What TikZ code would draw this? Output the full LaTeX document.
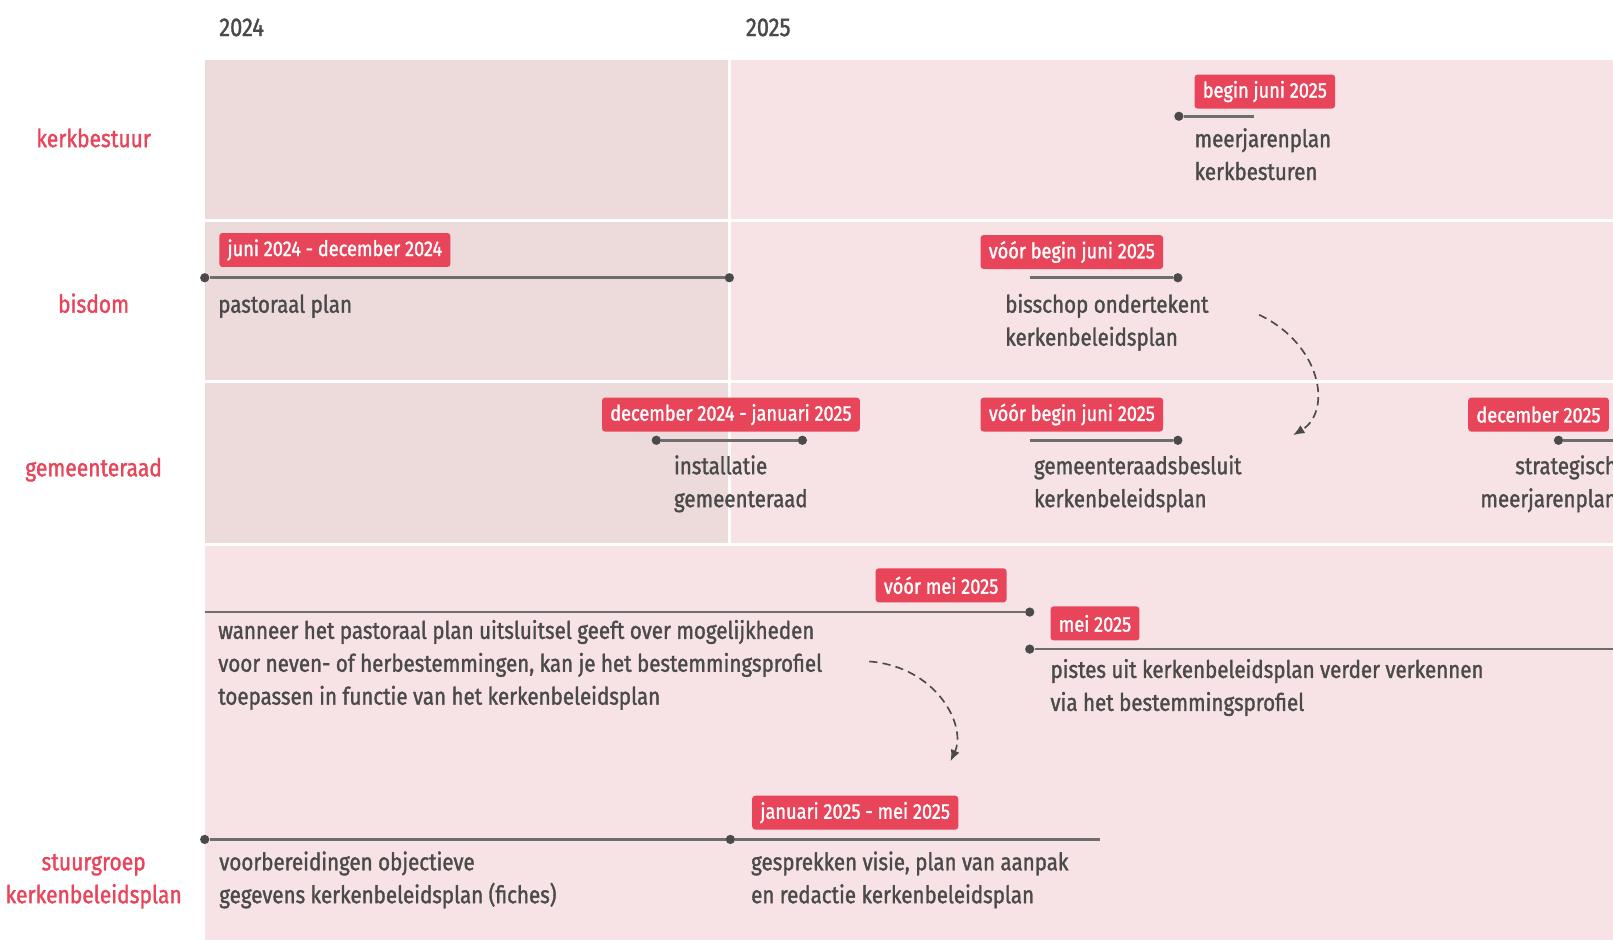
\documentclass[tikz,border=0pt]{standalone}
\usepackage{fontspec}
\setmainfont{Fira Sans}[FakeStretch=0.85, FakeBold=1.4]
\usepackage{tikz}
\usetikzlibrary{arrows.meta}

\definecolor{accent}{RGB}{232,68,90}
\definecolor{ink}{RGB}{74,74,74}
\definecolor{rule}{RGB}{110,110,110}
\definecolor{bglight}{RGB}{247,227,229}
\definecolor{bgdark}{RGB}{237,218,219}

\begin{document}
\begin{tikzpicture}[x=1pt, y=-1pt,
    tag/.style={fill=accent, text=white, rounded corners=3pt, inner xsep=8pt, inner ysep=0pt,
        minimum height=33pt, anchor=west, font=\fontsize{20.8}{24}\selectfont},
    desc/.style={text=ink, align=left, inner sep=0pt, anchor=base west, font=\fontsize{23.5}{32}\selectfont},
    lane/.style={text=accent, align=center, inner sep=0pt, anchor=base, font=\fontsize{24}{32}\selectfont},
    year/.style={text=ink, inner sep=0pt, anchor=base west, font=\fontsize{25}{32}\selectfont},
    dot/.style={circle, fill=ink, inner sep=0pt, minimum size=9pt},
    bar/.style={draw=rule, line width=2.5pt},
    link/.style={draw=ink, line width=1.6pt, dash pattern=on 8pt off 5pt, -{Latex[length=11pt,width=9pt]}}]
    \path[use as bounding box] (0,0) rectangle (1568,914);
    \clip (0,0) rectangle (1568,914);

    % Draw the lanes
    \fill[bglight] (199,58) rectangle (1568,914);
    \fill[bgdark] (199,58) rectangle (709,529);
    \draw[white, line width=3pt] (199,214) -- (1568,214);
    \draw[white, line width=3pt] (199,371) -- (1568,371);
    \draw[white, line width=3pt] (199,529) -- (1568,529);
    \draw[white, line width=3pt] (709,58) -- (709,529);

    % Years and lanes (base = last line)
    \node[year] (y24) at (213,35) {2024};
    \node[year] (y25) at (725,35) {2025};
    \node[lane] (kb) at (91,143) {kerkbestuur};
    \node[lane] (bd) at (91,304) {bisdom};
    \node[lane] (gr) at (91,463) {gemeenteraad};
    \node[lane] (sg) at (91,878) {stuurgroep\\kerkenbeleidsplan};

    % kerkbestuur
    \node[tag] (t1) at (1161,89) {begin juni 2025};
    \node[dot] (d1) at (1146,113) {};
    \coordinate (e1) at (1219,113);
    \draw[bar] (d1) -- (e1);
    \node[desc] (mjp) at (1161,175) {meerjarenplan\\kerkbesturen};

    % bisdom
    \node[tag] (t2) at (213,243) {juni 2024 - december 2024};
    \node[dot] (d2a) at (199,270) {};
    \node[dot] (d2b) at (709,270) {};
    \draw[bar] (d2a) -- (d2b);
    \node[desc] (pp) at (212,304) {pastoraal plan};
    \node[tag] (t3) at (953,245) {vóór begin juni 2025};
    \coordinate (e3) at (1001,270);
    \node[dot] (d3) at (1145,270) {};
    \draw[bar] (e3) -- (d3);
    \node[desc] (bis) at (977,336) {bisschop ondertekent\\kerkenbeleidsplan};

    % gemeenteraad
    \node[tag] (t4) at (585,403) {december 2024 - januari 2025};
    \node[dot] (d4a) at (638,428) {};
    \node[dot] (d4b) at (780,428) {};
    \draw[bar] (d4a) -- (d4b);
    \node[desc] (inst) at (655,493) {installatie\\gemeenteraad};
    \node[tag] (t5) at (953,403) {vóór begin juni 2025};
    \coordinate (e5) at (1001,428);
    \node[dot] (d5) at (1145,428) {};
    \draw[bar] (e5) -- (d5);
    \node[desc] (gb) at (1005,493) {gemeenteraadsbesluit\\kerkenbeleidsplan};
    \node[tag] (t6) at (1427,403) {december 2025};
    \node[dot] (d6) at (1515,428) {};
    \coordinate (e6) at (1580,428);
    \draw[bar] (d6) -- (e6);
    \node[desc, anchor=base east, align=right] (smp) at (1572,493) {strategisch\\meerjarenplan};

    % bestemmingsprofiel
    \node[tag] (t7) at (851,569) {vóór mei 2025};
    \coordinate (e7) at (199,595);
    \node[dot] (d7) at (1001,595) {};
    \draw[bar] (e7) -- (d7);
    \node[desc] (wan) at (212,685) {wanneer het pastoraal plan uitsluitsel geeft over mogelijkheden\\voor neven- of herbestemmingen, kan je het bestemmingsprofiel\\toepassen in functie van het kerkenbeleidsplan};
    \node[tag] (t8) at (1021,606) {mei 2025};
    \node[dot] (d8) at (1001,631) {};
    \coordinate (e8) at (1580,631);
    \draw[bar] (d8) -- (e8);
    \node[desc] (pis) at (1021,691) {pistes uit kerkenbeleidsplan verder verkennen\\via het bestemmingsprofiel};

    % stuurgroep
    \node[tag] (t9) at (731,790) {januari 2025 - mei 2025};
    \node[dot] (d9a) at (199,816) {};
    \node[dot] (d9b) at (710,816) {};
    \coordinate (e9) at (1069,816);
    \draw[bar] (d9a) -- (d9b) -- (e9);
    \node[desc] (vb) at (213,878) {voorbereidingen objectieve\\gegevens kerkenbeleidsplan (fiches)};
    \node[desc] (ges) at (730,878) {gesprekken visie, plan van aanpak\\en redactie kerkenbeleidsplan};

    % Dashed links
    \coordinate (a1) at (1224,306);
    \coordinate (b1) at (1257,423);
    \draw[link] (a1) .. controls (1285,335) and (1295,400) .. (b1);
    \coordinate (a2) at (845,643);
    \coordinate (b2) at (924,740);
    \draw[link] (a2) .. controls (910,648) and (940,705) .. (b2);
\end{tikzpicture}
\end{document}
